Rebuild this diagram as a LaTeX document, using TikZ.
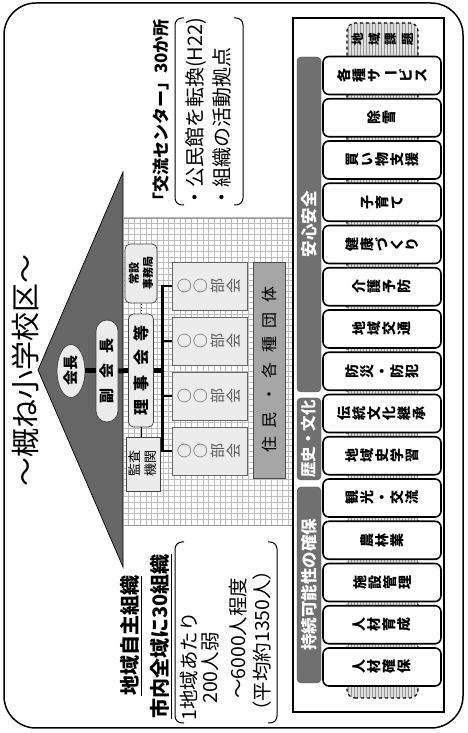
\documentclass[tikz,border=0pt]{standalone}
\usepackage{fontspec}
\setmainfont{Noto Sans CJK JP}
\usetikzlibrary{shapes.geometric}
\definecolor{roofgray}{RGB}{102,102,102}
\definecolor{catgray}{RGB}{112,112,112}
\definecolor{bandgray}{RGB}{166,166,166}
\definecolor{paleg}{RGB}{236,236,236}
\definecolor{gridg}{RGB}{188,188,188}
\definecolor{hatchbg}{RGB}{224,224,224}
\definecolor{hatchln}{RGB}{150,150,150}
\newcommand{\chouon}{\rotatebox[origin=c]{-90}{ー}}
\newcommand{\ulbox}[1]{\setbox0\hbox{#1}\leavevmode\rlap{\rule[-4.6pt]{\wd0}{1.4pt}}\box0}
\begin{document}
\begin{tikzpicture}[x=1pt,y=-1pt,rotate=90,transform shape,
  itembox/.style={draw,line width=1.6pt,rounded corners=6pt,fill=white,minimum width=38pt,minimum height=118pt,inner sep=0pt,align=center,font=\bfseries\fontsize{14}{15}\selectfont},
  catbar/.style={fill=catgray,draw=catgray!70!black,line width=0.4pt,rounded corners=4pt,minimum height=24pt,inner sep=0pt,text=white,font=\bfseries\fontsize{16.5}{18}\selectfont},
  bukai/.style={draw=black!60,fill=paleg,line width=0.6pt,minimum width=48pt,minimum height=75pt,inner sep=0pt,align=center,text=black!65,font=\fontsize{15}{16.5}\selectfont},
  palebox/.style={draw=black!75,fill=paleg,line width=0.7pt,inner sep=0pt,align=center},
  thickcon/.style={line width=5pt},
  busline/.style={line width=2.6pt},
  plain/.style={inner sep=0pt,anchor=west},
  bracket/.style={line width=1pt,rounded corners=7pt}
]
\useasboundingbox (0,0) rectangle (733,467);
% outer frame
\draw[line width=1.5pt,rounded corners=32pt] (5,4) rectangle (730,463);
% roof
\filldraw[fill=roofgray,draw=black,line width=0.7pt] (363,38) -- (561,123) -- (166,123) -- cycle;
% grid body
\fill[white] (208,123) rectangle (515,293);
\begin{scope}
\clip (208,123) rectangle (515,293);
\foreach \i in {0,...,54} \draw[gridg,line width=0.6pt] ({208+\i*5.7},123) -- ({208+\i*5.7},293);
\foreach \j in {0,...,30} \draw[gridg,line width=0.6pt] (208,{123+\j*5.7}) -- (515,{123+\j*5.7});
\end{scope}
\draw[gridg!80!black,line width=0.6pt] (208,123) rectangle (515,293);
% title
\node[inner sep=0pt,font=\fontsize{29}{29}\selectfont] (title) at (362,25) {～概ね小学校区～};
% organisation
\node[ellipse,palebox,minimum width=53pt,minimum height=28pt,font=\bfseries\fontsize{15}{15}\selectfont] (kaicho) at (362,71) {会長};
\node[palebox,rounded corners=11pt,minimum width=102pt,minimum height=22pt,font=\bfseries\fontsize{15}{15}\selectfont] (fuku) at (362,107) {副\hspace{10pt}会\hspace{10pt}長};
\node[palebox,rounded corners=5pt,minimum width=113pt,minimum height=25pt,font=\bfseries\fontsize{16}{16}\selectfont] (riji) at (362.5,141) {理\hspace{9pt}事\hspace{9pt}会\hspace{9pt}等};
\node[palebox,rounded corners=5pt,minimum width=59pt,minimum height=32pt,font=\bfseries\fontsize{11}{14}\selectfont] (jimu) at (459.5,141) {常設\\事務局};
\node[palebox,minimum width=54pt,minimum height=34pt,font=\fontsize{13}{16}\selectfont] (kansa) at (269,143) {監査\\機関};
\draw[thickcon] (kaicho) -- (fuku);
\draw[thickcon] (fuku) -- (riji);
\draw[dotted,line width=1pt] (riji.east) -- (jimu.west);
\draw[line width=0.7pt] (riji.west) -- (kansa.east |- riji.west);
% bukai
\node[bukai] (bk1) at (447,209.5) {○\\○\\部\\会};
\node[bukai] (bk2) at (392,209.5) {○\\○\\部\\会};
\node[bukai] (bk3) at (337,209.5) {○\\○\\部\\会};
\node[bukai] (bk4) at (282,209.5) {○\\○\\部\\会};
\coordinate (busmid) at (362.5,163);
\draw[busline] (bk1.north) -- ++(0,-9) -| (bk4.north);
\draw[busline] (bk2.north) -- ++(0,-9);
\draw[busline] (bk3.north) -- ++(0,-9);
\draw[thickcon] (riji.south) -- (busmid);
\node[draw=black!70,fill=bandgray,line width=0.6pt,minimum width=216pt,minimum height=32pt,inner sep=0pt,font=\fontsize{16}{16}\selectfont] (jumin) at (363,269) {住\hspace{9pt}民\hspace{9pt}・\hspace{9pt}各\hspace{9pt}種\hspace{9pt}団\hspace{9pt}体};
% community centre text
\node[plain,font=\bfseries\fontsize{17}{17}\selectfont] (koryu) at (523,161) {「交流センター」30か所};
\draw[bracket] (528,184) -- (528,175) -- (715,175) -- (715,184);
\draw[bracket] (528,234) -- (528,243) -- (715,243) -- (715,234);
\node[plain,font=\fontsize{20}{20}\selectfont] (kominkan) at (525,196) {・公民館を転換(H22)};
\node[plain,font=\fontsize{20}{20}\selectfont] (kyoten) at (525,222) {・組織の活動拠点};
% bottom-left texts
\node[plain,font=\bfseries\fontsize{20}{20}\selectfont] (jishu) at (37,131) {\ulbox{地域自主組織}};
\node[plain,font=\bfseries\fontsize{20}{20}\selectfont] (shinai) at (14,161) {\ulbox{市内全域に30組織}};
\draw[bracket] (10,184) -- (10,175) -- (191,175) -- (191,184);
\draw[bracket] (10,268) -- (10,277) -- (191,277) -- (191,268);
\node[plain,font=\fontsize{19.5}{20}\selectfont] (l1) at (12,189) {1地域あたり};
\node[plain,font=\fontsize{19.5}{20}\selectfont] (l2) at (29,210) {200人弱};
\node[plain,font=\fontsize{19.5}{20}\selectfont] (l3) at (34,238) {～6000人程度};
\node[plain,font=\fontsize{19.5}{20}\selectfont] (l4) at (12,262) {（平均約1350人）};
% right panel
\draw[line width=1.2pt] (21,293) rectangle (715,444);
\begin{scope}
\clip[rounded corners=8pt] (35,347) rectangle (710,418);
\fill[hatchbg] (35,347) rectangle (710,418);
\foreach \j in {0,...,24} \draw[hatchln,line width=0.6pt] (35,{348+\j*3}) -- (710,{348+\j*3});
\end{scope}
\draw[dashed,line width=1.2pt,rounded corners=8pt] (35,347) rectangle (710,418);
\node[inner sep=0pt,align=center,font=\bfseries\fontsize{12.5}{16.5}\selectfont] (kadai) at (694,383) {地\\域\\課\\題};
\node[catbar,minimum width=335pt] (c1) at (508.5,309) {安心安全};
\node[catbar,minimum width=82pt,font=\bfseries\fontsize{15.5}{16}\selectfont] (c2) at (294,309) {歴史・文化};
\node[catbar,minimum width=196pt] (c3) at (148,309) {持続可能性の確保};
\node[itembox] (i1) at (657.5,382) {各\\種\\サ\\\chouon\\ビ\\ス};
\node[itembox] (i2) at (615.25,382) {除\\雪};
\node[itembox] (i3) at (573,382) {買\\い\\物\\支\\援};
\node[itembox] (i4) at (530.75,382) {子\\育\\て};
\node[itembox] (i5) at (488.5,382) {健\\康\\づ\\く\\り};
\node[itembox] (i6) at (446.25,382) {介\\護\\予\\防};
\node[itembox] (i7) at (404,382) {地\\域\\交\\通};
\node[itembox] (i8) at (361.75,382) {防\\災\\・\\防\\犯};
\node[itembox] (i9) at (319.5,382) {伝\\統\\文\\化\\継\\承};
\node[itembox] (i10) at (277.25,382) {地\\域\\史\\学\\習};
\node[itembox] (i11) at (235,382) {観\\光\\・\\交\\流};
\node[itembox] (i12) at (192.75,382) {農\\林\\業};
\node[itembox] (i13) at (150.5,382) {施\\設\\管\\理};
\node[itembox] (i14) at (108.25,382) {人\\材\\育\\成};
\node[itembox] (i15) at (66,382) {人\\材\\確\\保};
\end{tikzpicture}
\end{document}
